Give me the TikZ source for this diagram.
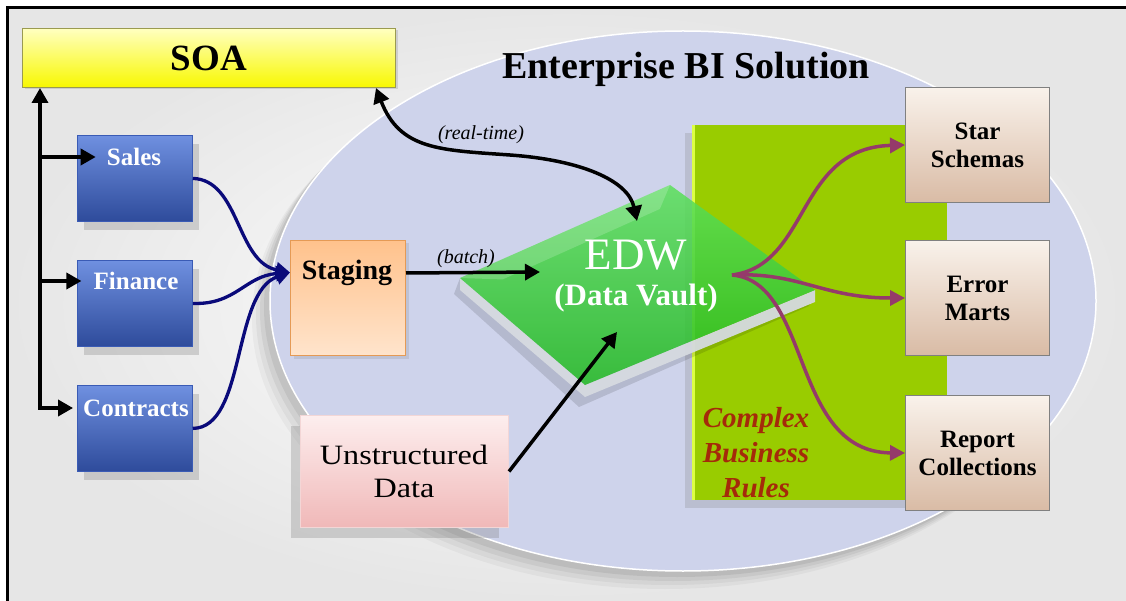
\documentclass[tikz,border=0pt]{standalone}
\usepackage{fontspec}
\setmainfont{Liberation Serif}
\usetikzlibrary{arrows.meta,shadows,shapes.geometric,calc}
\definecolor{bgc}{HTML}{E6E6E6}
\definecolor{lav}{HTML}{CED3EB}
\definecolor{soaTop}{HTML}{FFFFC0}
\definecolor{soaBot}{HTML}{F8F800}
\definecolor{soaLine}{HTML}{9A9A50}
\definecolor{blueTop}{HTML}{6F90E0}
\definecolor{blueBot}{HTML}{2E4B9B}
\definecolor{blueLine}{HTML}{3A5BB5}
\definecolor{stgTop}{HTML}{FFC28C}
\definecolor{stgBot}{HTML}{FFE4CC}
\definecolor{stgLine}{HTML}{E59A55}
\definecolor{unTop}{HTML}{FDEEEE}
\definecolor{unBot}{HTML}{F0B8B8}
\definecolor{unLine}{HTML}{F3D6D6}
\definecolor{bzTop}{HTML}{F9F2EB}
\definecolor{bzBot}{HTML}{D9BBA5}
\definecolor{bzLine}{HTML}{808080}
\definecolor{rulesG}{HTML}{99CC00}
\definecolor{rulesHi}{HTML}{DDFF44}
\definecolor{plateTop}{HTML}{5BE05B}
\definecolor{plateBot}{HTML}{1FB81F}
\definecolor{plateEdge}{HTML}{D6DAE0}
\definecolor{navyc}{HTML}{0A0A7A}
\definecolor{purc}{HTML}{953A6A}
\definecolor{rulesTxt}{HTML}{A52A0A}
\begin{document}
\begin{tikzpicture}[x=1pt,y=-1pt,
  boxlbl/.style={font=\fontsize{25}{28}\selectfont\bfseries, align=center, inner sep=0pt},
  bluebox/.style={rectangle, anchor=north west, inner sep=0pt, minimum width=115pt, minimum height=86pt,
     top color=blueTop, bottom color=blueBot, draw=blueLine, line width=0.8pt,
     drop shadow={shadow xshift=7pt, shadow yshift=-9pt, opacity=0.3}},
  beigebox/.style={rectangle, anchor=north west, inner sep=0pt, minimum width=144pt, minimum height=115pt,
     top color=bzTop, bottom color=bzBot, draw=bzLine, line width=1pt,
     font=\fontsize{25}{28}\selectfont\bfseries, align=center},
  blk/.style={draw=black, line width=3.5pt, -{Triangle[length=15pt,width=16pt]}},
  nav/.style={draw=navyc, line width=3.3pt, -{Triangle[length=14pt,width=15pt]}},
  pur/.style={draw=purc, line width=3.5pt, -{Triangle[length=15pt,width=15pt]}},
  note/.style={font=\fontsize{20}{24}\selectfont\itshape, inner sep=0pt}
]
\useasboundingbox (0,0) rectangle (1126,601);
% background and frame
\fill[white] (0,0) rectangle (1126,601);
\shade[inner color=white, outer color=bgc] (7,8) rectangle (1126,601);
\draw[line width=3pt] (7,601) -- (7,8) -- (1126,8);

% big ellipse with soft shadow
\foreach \d/\o in {18/0.035,14/0.045,10/0.055,6/0.065}
  \fill[black,opacity=\o] (683-\d,301+\d) ellipse [x radius=413, y radius=270];
\node[ellipse, fill=lav, draw=white, line width=1.5pt, minimum width=826pt, minimum height=540pt, inner sep=0pt] (bi) at (683,301) {};
\node[font=\fontsize{38}{42}\selectfont\bfseries, inner sep=0pt] (title) at (686,69) {Enterprise BI Solution};

% complex business rules panel
\node[rectangle, anchor=north west, inner sep=0pt, minimum width=254pt, minimum height=375pt, fill=rulesG,
      drop shadow={shadow xshift=-8pt, shadow yshift=-8pt, opacity=0.25}] (rules) at (693,125) {};
\draw[rulesHi, line width=3pt] (rules.south west) -- (rules.north west);
\node[font=\fontsize{29}{35}\selectfont\bfseries\itshape, text=rulesTxt, align=center, inner sep=0pt] (rulesT) at (756,453) {Complex\\Business\\Rules};

% EDW plate
\coordinate (pl) at (460,278);
\coordinate (pt) at (670,185);
\coordinate (pr) at (815,290);
\coordinate (pb) at (585,385);
\fill[black, opacity=0.12] ($(pl)+(-6,16)$) -- ($(pb)+(-6,22)$) -- ($(pr)+(-6,16)$) -- (pr) -- (pb) -- (pl) -- cycle;
\fill[plateEdge, opacity=0.95] (pl) -- (pb) -- (pr) -- ($(pr)+(0,12)$) -- ($(pb)+(0,12)$) -- ($(pl)+(0,12)$) -- cycle;
\shade[top color=plateTop, bottom color=plateBot, opacity=0.85] (pl) -- (pt) -- (pr) -- (pb) -- cycle;
\fill[white, opacity=0.18] (pl) -- (pt) -- ($(pt)!0.12!(pb)$) -- ($(pl)!0.12!(pr)$) -- cycle;
\node[font=\fontsize{45}{50}\selectfont, text=white, inner sep=0pt] (edw) at (636,255) {EDW};
\node[font=\fontsize{31}{36}\selectfont\bfseries, text=white, inner sep=0pt] (edwsub) at (636,298) {(Data Vault)};
\coordinate (edwIn) at (540,272);
\coordinate (edwTop) at (637,221);
\coordinate (edwUp) at (617,332);
\coordinate (edwOut) at (732,275);

% SOA
\node[rectangle, anchor=north west, inner sep=0pt, minimum width=373pt, minimum height=59pt,
      top color=soaTop, bottom color=soaBot, draw=soaLine, line width=1pt,
      font=\fontsize{37}{40}\selectfont\bfseries,
      drop shadow={shadow xshift=2pt, shadow yshift=-2pt, opacity=0.25}] (soa) at (22,28) {SOA};

% source boxes
\node[bluebox] (sales) at (77,135) {};
\node[bluebox] (finance) at (77,260) {};
\node[bluebox] (contracts) at (77,385) {};
\node[boxlbl, text=white] (salesT) at (134,157) {Sales};
\node[boxlbl, text=white] (financeT) at (136,281) {Finance};
\node[boxlbl, text=white] (contractsT) at (136,408) {Contracts};

% staging
\node[rectangle, anchor=north west, inner sep=0pt, minimum width=115pt, minimum height=115pt,
      top color=stgTop, bottom color=stgBot, draw=stgLine, line width=1pt,
      drop shadow={shadow xshift=3pt, shadow yshift=-3pt, opacity=0.2}] (staging) at (290,240) {};
\node[boxlbl, font=\fontsize{28}{30}\selectfont\bfseries] (stagingT) at (347,273) {Staging};

% unstructured data
\node[rectangle, anchor=north west, inner sep=0pt, minimum width=208pt, minimum height=112pt,
      top color=unTop, bottom color=unBot, draw=unLine, line width=1pt,
      drop shadow={shadow xshift=-10pt, shadow yshift=-10pt, opacity=0.3}] (unstr) at (300,415) {};
\node[font=\fontsize{28}{33}\selectfont, align=center, inner sep=0pt, xscale=1.15, transform shape] (unstrT) at (404,471) {Unstructured\\Data};

% target boxes
\node[beigebox] (star) at (905,87) {Star\\Schemas};
\node[beigebox] (error) at (905,240) {Error\\Marts};
\node[beigebox] (report) at (905,395) {Report\\Collections};

% left tree
\coordinate (trunk) at (40,409.75);
\draw[blk] (trunk) -- (trunk |- soa.south);
\draw[blk, shorten >=11pt] (38.25,0 |- salesT) -- (salesT.west);
\draw[blk, shorten >=12pt] (38.25,0 |- financeT) -- (financeT.west);
\draw[blk, shorten >=10pt] (38.25,0 |- contractsT) -- (contractsT.west);

% blue merges
\draw[nav] (sales.east) .. controls (240,180) and (236,262) .. ([yshift=25.5pt]staging.west);
\draw[nav] (finance.east) .. controls (236,305) and (245,276) .. ([yshift=25.5pt]staging.west);
\draw[nav] (contracts.east) .. controls (246,428) and (232,292) .. ([yshift=25.5pt]staging.west);

% black flows into EDW
\draw[blk] ([yshift=25pt]staging.east) -- (edwIn);
\node[note] (batchT) at (466,259) {(batch)};
\draw[blk] (unstr.east) -- (edwUp);
\draw[blk, {Triangle[length=15pt,width=16pt]}-{Triangle[length=15pt,width=16pt]}]
  ([xshift=-20pt]soa.south east) .. controls (400,150) and (440,150) .. (510,155)
  .. controls (580,160) and (628,180) .. (edwTop);
\node[note] (rtT) at (481,135) {(real-time)};

% purple outputs
\draw[pur] (edwOut) .. controls (810,265) and (796,148) .. (star.west);
\draw[pur] (edwOut) .. controls (800,272) and (822,298) .. (error.west);
\draw[pur] (edwOut) .. controls (812,282) and (790,452) .. (report.west);
\end{tikzpicture}
\end{document}
